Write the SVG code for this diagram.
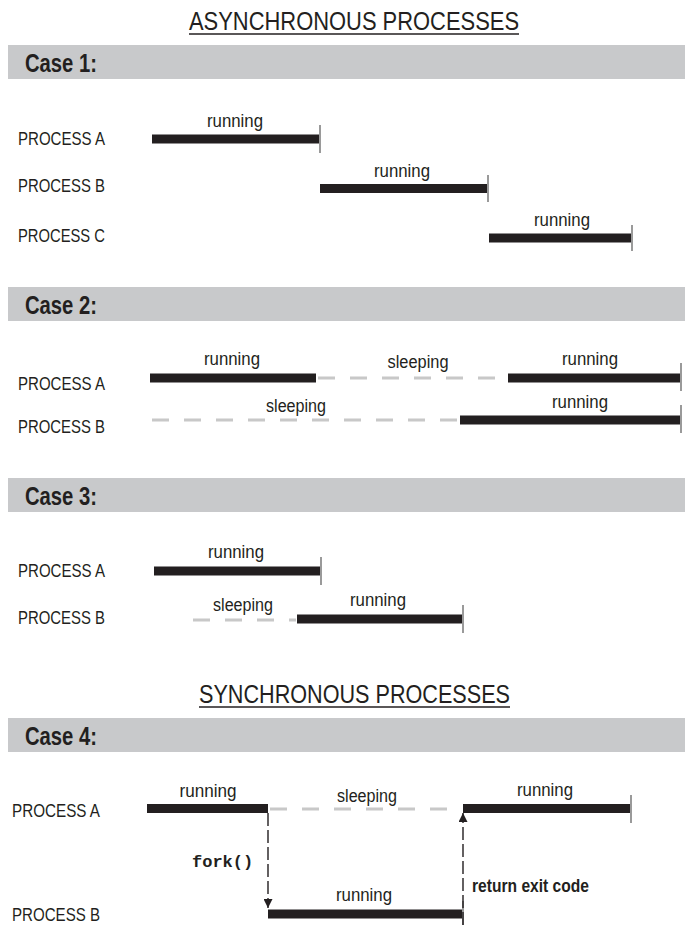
<svg xmlns="http://www.w3.org/2000/svg" width="685" height="925" viewBox="0 0 685 925">
<style>
  text { font-family: "Liberation Sans", Arial, sans-serif; fill: #231f20; }
  .title { font-size: 26px; }
  .case { font-size: 25px; font-weight: bold; }
  .lbl { font-size: 18px; }
  .st { font-size: 18px; text-anchor: middle; }
  .bold { font-size: 18px; font-weight: bold; }
  .mono { font-family: "Liberation Mono", "Courier New", monospace; font-size: 17px; font-weight: bold; }
  .band { fill: #c8c9cb; }
  .bar { fill: #231f20; }
  .tick { stroke: #9a9a9a; stroke-width: 2; }
  .sleep { stroke: #c8c8c8; stroke-width: 3; stroke-dasharray: 17 15; fill: none; }
  .uline { stroke: #231f20; stroke-width: 1.5; }
  .conn { stroke: #231f20; stroke-width: 1.4; stroke-dasharray: 13 4; fill: none; }
</style>
<defs>
  <marker id="ah" viewBox="0 0 10 10" refX="10" refY="5" markerWidth="9" markerHeight="9" markerUnits="userSpaceOnUse" orient="auto">
    <path d="M0,0 L10,5 L0,10 z" fill="#231f20"/>
  </marker>
</defs>
<rect width="685" height="925" fill="#ffffff"/>

<g id="title-async">
  <text class="title" x="189" y="30" textLength="330" lengthAdjust="spacingAndGlyphs">ASYNCHRONOUS PROCESSES</text>
  <line class="uline" x1="189" y1="34" x2="519" y2="34"/>
</g>

<!-- Case 1 -->
<g id="case1-header">
  <rect class="band" x="8" y="45" width="677" height="34"/>
  <text class="case" x="25" y="72" textLength="72" lengthAdjust="spacingAndGlyphs">Case 1:</text>
</g>
<g id="case1-processA">
  <text class="lbl" x="18" y="145" textLength="87" lengthAdjust="spacingAndGlyphs">PROCESS A</text>
  <rect class="bar" x="152" y="134.5" width="167" height="9"/>
  <line class="tick" x1="320" y1="125" x2="320" y2="153"/>
  <text class="st" x="235" y="127" textLength="56" lengthAdjust="spacingAndGlyphs">running</text>
</g>
<g id="case1-processB">
  <text class="lbl" x="18" y="192" textLength="87" lengthAdjust="spacingAndGlyphs">PROCESS B</text>
  <rect class="bar" x="320" y="184" width="167" height="9"/>
  <line class="tick" x1="488" y1="175" x2="488" y2="202"/>
  <text class="st" x="402" y="177" textLength="56" lengthAdjust="spacingAndGlyphs">running</text>
</g>
<g id="case1-processC">
  <text class="lbl" x="18" y="242" textLength="87" lengthAdjust="spacingAndGlyphs">PROCESS C</text>
  <rect class="bar" x="489" y="233.5" width="142" height="9"/>
  <line class="tick" x1="632" y1="225" x2="632" y2="251"/>
  <text class="st" x="562" y="226" textLength="56" lengthAdjust="spacingAndGlyphs">running</text>
</g>

<!-- Case 2 -->
<g id="case2-header">
  <rect class="band" x="8" y="287" width="677" height="34"/>
  <text class="case" x="25" y="314" textLength="72" lengthAdjust="spacingAndGlyphs">Case 2:</text>
</g>
<g id="case2-processA">
  <text class="lbl" x="18" y="390" textLength="87" lengthAdjust="spacingAndGlyphs">PROCESS A</text>
  <rect class="bar" x="150" y="373.5" width="166" height="9"/>
  <line class="sleep" x1="318" y1="378" x2="507" y2="378"/>
  <rect class="bar" x="508" y="373.5" width="172" height="9"/>
  <line class="tick" x1="681" y1="363" x2="681" y2="391"/>
  <text class="st" x="232" y="365" textLength="56" lengthAdjust="spacingAndGlyphs">running</text>
  <text class="st" x="418" y="368" textLength="61" lengthAdjust="spacingAndGlyphs">sleeping</text>
  <text class="st" x="590" y="365" textLength="56" lengthAdjust="spacingAndGlyphs">running</text>
</g>
<g id="case2-processB">
  <text class="lbl" x="18" y="433" textLength="87" lengthAdjust="spacingAndGlyphs">PROCESS B</text>
  <line class="sleep" x1="152" y1="420" x2="460" y2="420"/>
  <rect class="bar" x="460" y="415.5" width="220" height="9"/>
  <line class="tick" x1="681" y1="405" x2="681" y2="433"/>
  <text class="st" x="296" y="412" textLength="60" lengthAdjust="spacingAndGlyphs">sleeping</text>
  <text class="st" x="580" y="408" textLength="56" lengthAdjust="spacingAndGlyphs">running</text>
</g>

<!-- Case 3 -->
<g id="case3-header">
  <rect class="band" x="8" y="478" width="677" height="34"/>
  <text class="case" x="25" y="505" textLength="72" lengthAdjust="spacingAndGlyphs">Case 3:</text>
</g>
<g id="case3-processA">
  <text class="lbl" x="18" y="577" textLength="87" lengthAdjust="spacingAndGlyphs">PROCESS A</text>
  <rect class="bar" x="154" y="566.5" width="166" height="9"/>
  <line class="tick" x1="321" y1="557" x2="321" y2="585"/>
  <text class="st" x="236" y="558" textLength="56" lengthAdjust="spacingAndGlyphs">running</text>
</g>
<g id="case3-processB">
  <text class="lbl" x="18" y="624" textLength="87" lengthAdjust="spacingAndGlyphs">PROCESS B</text>
  <line class="sleep" x1="193" y1="620" x2="296" y2="620"/>
  <rect class="bar" x="297" y="614.5" width="165" height="9"/>
  <line class="tick" x1="463" y1="605" x2="463" y2="633"/>
  <text class="st" x="243" y="611" textLength="60" lengthAdjust="spacingAndGlyphs">sleeping</text>
  <text class="st" x="378" y="606" textLength="56" lengthAdjust="spacingAndGlyphs">running</text>
</g>

<g id="title-sync">
  <text class="title" x="199" y="703" textLength="311" lengthAdjust="spacingAndGlyphs">SYNCHRONOUS PROCESSES</text>
  <line class="uline" x1="199" y1="707" x2="510" y2="707"/>
</g>

<!-- Case 4 -->
<g id="case4-header">
  <rect class="band" x="8" y="718" width="677" height="34"/>
  <text class="case" x="25" y="745" textLength="72" lengthAdjust="spacingAndGlyphs">Case 4:</text>
</g>
<g id="case4-processA">
  <text class="lbl" x="12" y="817" textLength="88" lengthAdjust="spacingAndGlyphs">PROCESS A</text>
  <rect class="bar" x="147" y="804" width="121" height="9"/>
  <line class="sleep" x1="270" y1="809" x2="452" y2="809"/>
  <rect class="bar" x="463" y="804" width="167" height="9"/>
  <line class="tick" x1="631" y1="795" x2="631" y2="823"/>
  <text class="st" x="208" y="797" textLength="57" lengthAdjust="spacingAndGlyphs">running</text>
  <text class="st" x="367" y="802" textLength="60" lengthAdjust="spacingAndGlyphs">sleeping</text>
  <text class="st" x="545" y="796" textLength="56" lengthAdjust="spacingAndGlyphs">running</text>
</g>
<g id="case4-processB">
  <text class="lbl" x="12" y="921" textLength="88" lengthAdjust="spacingAndGlyphs">PROCESS B</text>
  <rect class="bar" x="268" y="909.5" width="194" height="9"/>
  <line class="tick" x1="463" y1="901" x2="463" y2="925"/>
  <text class="st" x="364" y="901" textLength="56" lengthAdjust="spacingAndGlyphs">running</text>
</g>

<g id="connectors">
  <line class="conn" x1="268" y1="813" x2="268" y2="908" marker-end="url(#ah)"/>
  <line class="conn" x1="463" y1="925" x2="463" y2="813" marker-end="url(#ah)"/>
  <text class="mono" x="192" y="867">fork()</text>
  <text class="bold" x="472" y="892" textLength="117" lengthAdjust="spacingAndGlyphs">return exit code</text>
</g>
</svg>
